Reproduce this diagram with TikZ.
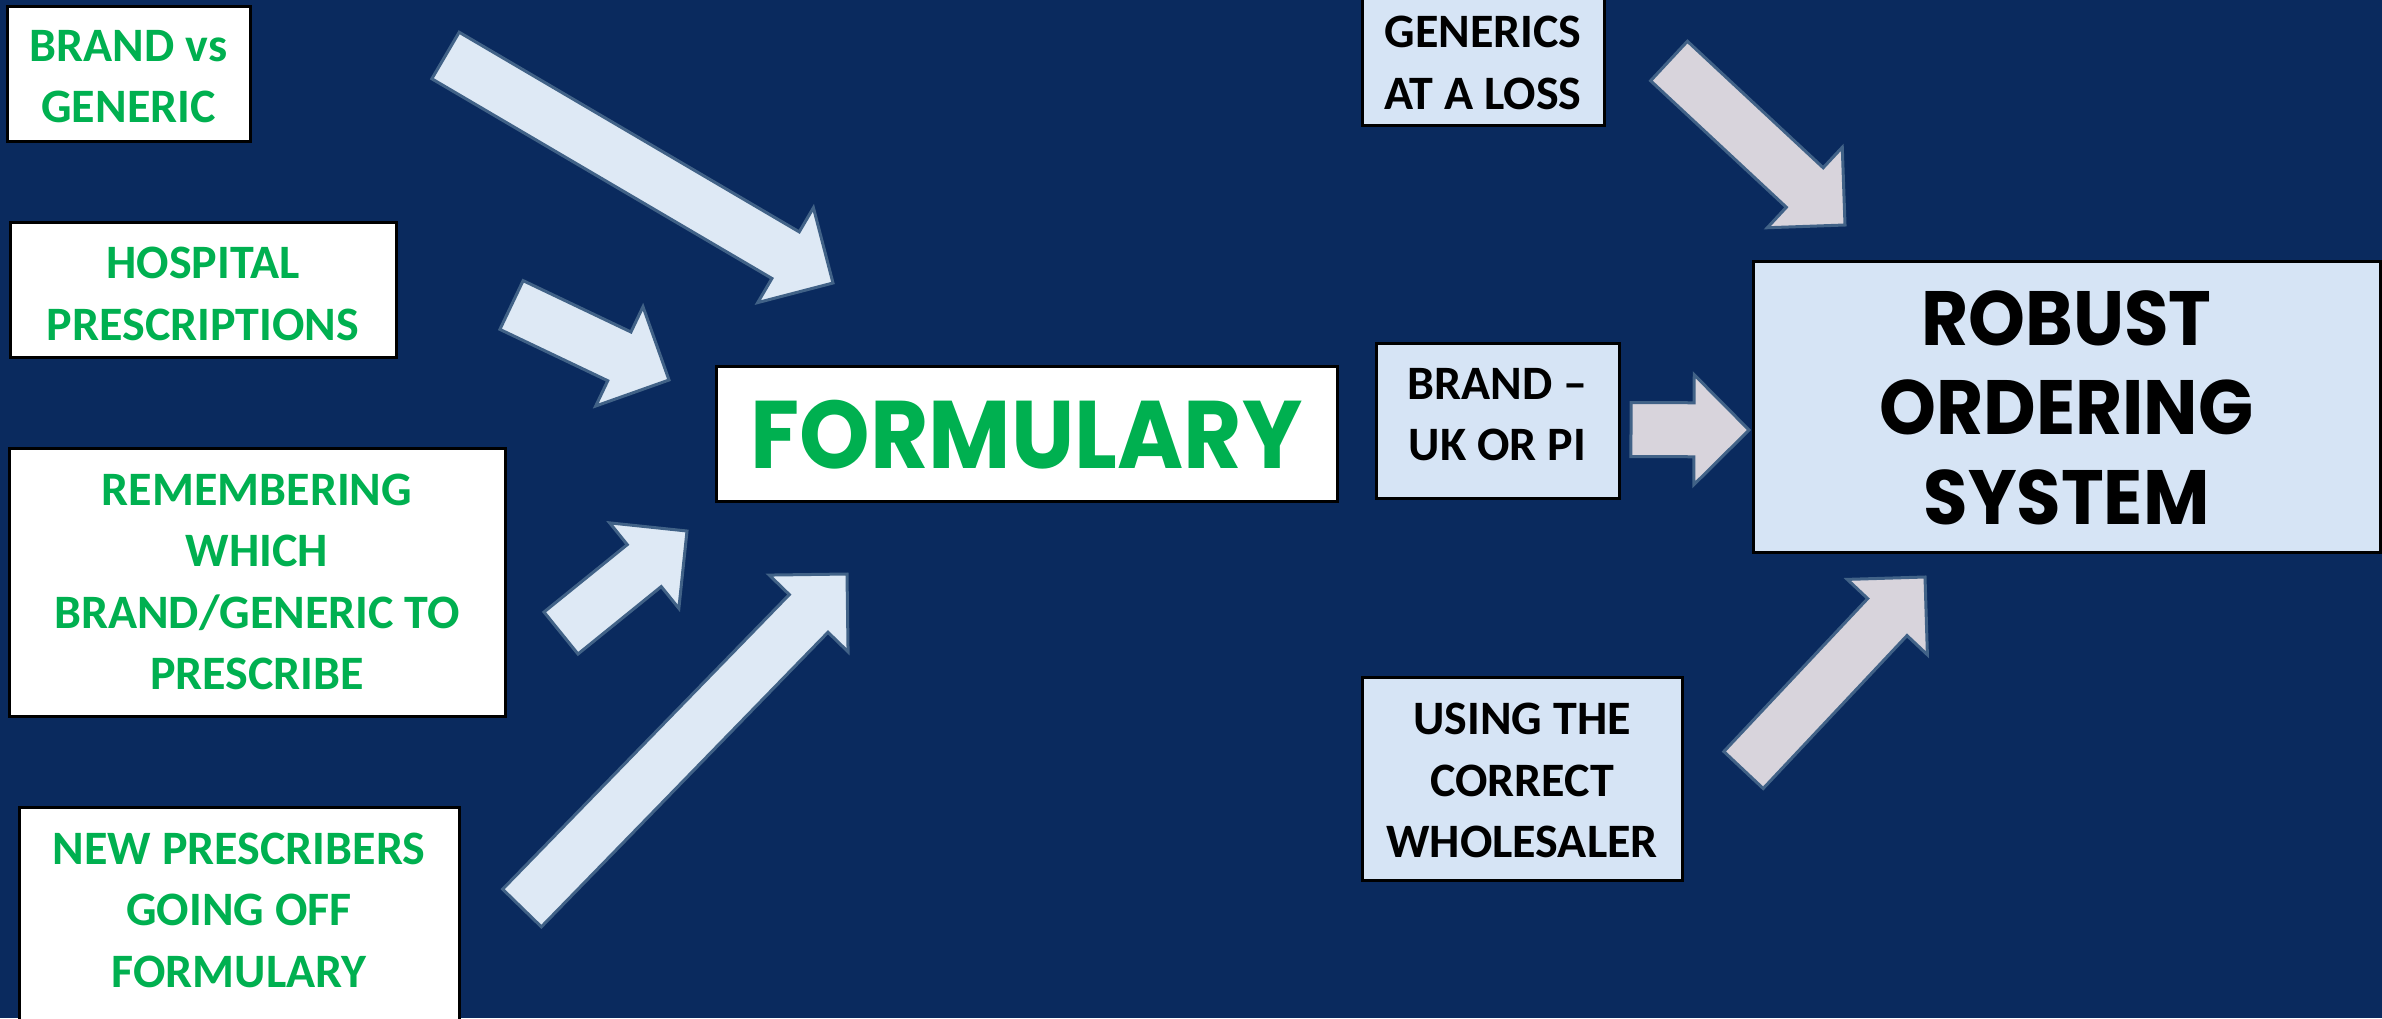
\documentclass[tikz,border=0pt]{standalone}
\usepackage{fontspec}
\setmainfont{Carlito}
\newfontfamily\geofont{Poppins}
\usetikzlibrary{calc}
\definecolor{bgnavy}{RGB}{10,42,94}
\definecolor{boxgreen}{RGB}{0,176,80}
\definecolor{lightblue}{RGB}{214,228,245}
\definecolor{arrowblue}{RGB}{222,233,245}
\definecolor{arrowgray}{RGB}{216,212,220}
\definecolor{arrowedge}{RGB}{65,98,135}
\newcommand{\blockarrow}[3]{%
  \path ($(#2)!27.5pt!(#1)$) coordinate (hb);
  \draw[#3] ($(#1)!13.5pt!90:(#2)$) -- ($(hb)!13.5pt!90:(#2)$) -- ($(hb)!27.5pt!90:(#2)$) -- (#2)
    -- ($(hb)!27.5pt!-90:(#2)$) -- ($(hb)!13.5pt!-90:(#2)$) -- ($(#1)!13.5pt!-90:(#2)$) -- cycle;}
\newcommand{\narrowtext}[1]{\scalebox{0.94}[1]{#1}}
\begin{document}
\begin{tikzpicture}[x=0.5pt,y=-0.5pt,
  wbox/.style={draw=black, line width=1.5pt, fill=white, inner sep=0pt},
  bbox/.style={wbox, fill=lightblue},
  gtext/.style={inner sep=0pt, align=center, text=boxgreen, font=\fontsize{24}{30.75}\selectfont\bfseries},
  ktext/.style={gtext, text=black},
  inarrow/.style={draw=arrowedge, line width=1.5pt, fill=arrowblue, line join=miter},
  outarrow/.style={inarrow, fill=arrowgray}]
\useasboundingbox (0,0) rectangle (2382,1018);
\clip (0,0) rectangle (2382,1018);
\fill[bgnavy] (0,0) rectangle (2382,1018);
% left boxes
\node[wbox, minimum width=121.5pt, minimum height=67.5pt] (brandgen) at (128.5,73.5) {};
\node[gtext] (brandgen-t) at ($(brandgen.center)+(0,3)$) {BRAND vs\\GENERIC};
\node[wbox, minimum width=193pt, minimum height=67.5pt] (hospital) at (203,289.5) {};
\node[gtext] (hospital-t) at ($(hospital.center)+(0,4.5)$) {HOSPITAL\\PRESCRIPTIONS};
\node[wbox, minimum width=248pt, minimum height=134pt] (remember) at (257,582) {};
\node[gtext] (remember-t) at (remember.center) {REMEMBERING\\WHICH\\BRAND/GENERIC TO\\PRESCRIBE};
\node[wbox, minimum width=220pt, minimum height=109pt] (newpres) at (239,916) {};
\node[gtext] (newpres-t) at ($(newpres.center)+(0,-6)$) {NEW PRESCRIBERS\\GOING OFF\\FORMULARY};
% centre
\node[wbox, minimum width=310.5pt, minimum height=67.5pt] (formulary) at (1026.5,433.5) {};
\node[gtext, font=\geofont\bfseries\fontsize{48}{58}\selectfont] (formulary-t) at ($(formulary.center)+(0,1)$) {\scalebox{0.935}[1]{FORMULARY}};
% right boxes
\node[bbox, minimum width=121pt, minimum height=65pt] (generics) at (1483,60) {};
\node[ktext] (generics-t) at ($(generics.center)+(0,3)$) {GENERICS\\AT A LOSS};
\node[bbox, minimum width=121.5pt, minimum height=77.5pt] (branduk) at (1497.5,420.5) {};
\node[ktext] (branduk-t) at ($(branduk.center)+(0,-6)$) {BRAND –\\UK OR PI};
\node[bbox, minimum width=160pt, minimum height=101.5pt] (using) at (1522,778.5) {};
\node[ktext] (using-t) at ($(using.center)+(0,2)$) {USING THE\\CORRECT\\WHOLESALER};
\node[bbox, minimum width=313.5pt, minimum height=145.5pt] (robust) at (2066.5,406.5) {};
\node[ktext, font=\geofont\bfseries\fontsize{38.5}{44.75}\selectfont] (robust-t) at ($(robust.center)+(0,1)$)
  {\narrowtext{ROBUST}\\\narrowtext{ORDERING}\\\narrowtext{SYSTEM}};
% arrow ends
\coordinate (a1s) at (445.5,55.5);  \coordinate (a1e) at (833,283);
\coordinate (a2s) at (511.5,305);   \coordinate (a2e) at (669,380);
\coordinate (a3s) at (561,633);     \coordinate (a3e) at (687,531);
\coordinate (a4s) at (522,908);     \coordinate (a4e) at (847,574);
\coordinate (a5s) at (1669,61);     \coordinate (a5e) at (1845,225);
\coordinate (a6s) at (1631,429.5);  \coordinate (a6e) at (1749,430);
\coordinate (a7s) at (1743.5,770);  \coordinate (a7e) at (1925,577);
\blockarrow{a1s}{a1e}{inarrow}
\blockarrow{a2s}{a2e}{inarrow}
\blockarrow{a3s}{a3e}{inarrow}
\blockarrow{a4s}{a4e}{inarrow}
\blockarrow{a5s}{a5e}{outarrow}
\blockarrow{a6s}{a6e}{outarrow}
\blockarrow{a7s}{a7e}{outarrow}
\end{tikzpicture}
\end{document}
